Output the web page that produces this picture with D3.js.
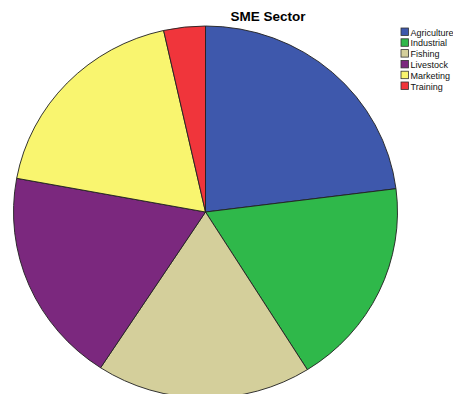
<!DOCTYPE html>
<html>
<head>
<meta charset="utf-8">
<script src="https://cdnjs.cloudflare.com/ajax/libs/d3/7.8.5/d3.min.js"></script>
<style>
body { margin: 0; background: #fff; }
svg { display: block; font-family: "Liberation Sans", Arial, sans-serif; }
</style>
</head>
<body>
<svg id="main" width="453" height="394"></svg>
<script>
var sectors = ["Agriculture", "Industrial", "Fishing", "Livestock", "Marketing", "Training"];
var shares = [23.0, 18.1, 18.1, 18.7, 18.6, 3.5];
var colors = ["#3e58ac", "#2fb84a", "#d4cf9b", "#7b287e", "#f9f56f", "#f0353b"];

var svg = d3.select("#main");
var cx = 205.5, cy = 212;
var ry = 186, rx = 192;

var data = sectors.map(function(s, i) { return {name: s, value: shares[i], color: colors[i]}; });

var pie = d3.pie().sort(null).value(function(d) { return d.value; });
var arc = d3.arc().innerRadius(0).outerRadius(ry);

// pie is slightly stretched horizontally like the original
var g = svg.append("g")
	.attr("transform", "translate(" + cx + "," + cy + ") scale(" + (rx / ry) + ",1)");

g.selectAll("path")
	.data(pie(data))
	.enter().append("path")
	.attr("d", arc)
	.attr("fill", function(d) { return d.data.color; })
	.attr("stroke", "#222")
	.attr("stroke-width", 0.9)
	.attr("stroke-linejoin", "round");

svg.append("text")
	.attr("x", 268)
	.attr("y", 21)
	.attr("text-anchor", "middle")
	.attr("font-weight", "bold")
	.attr("font-size", 13.5)
	.text("SME Sector");

var legend = svg.append("g").attr("transform", "translate(401,28)");
var row = legend.selectAll("g")
	.data(data)
	.enter().append("g")
	.attr("transform", function(d, i) { return "translate(0," + (i * 10.8) + ")"; });

row.append("rect")
	.attr("width", 7.5)
	.attr("height", 7.5)
	.attr("fill", function(d) { return d.color; })
	.attr("stroke", "#333")
	.attr("stroke-width", 0.8);

row.append("text")
	.attr("x", 9.5)
	.attr("y", 7.5)
	.attr("font-size", 9)
	.attr("fill", "#111")
	.text(function(d) { return d.name; });
</script>
</body>
</html>
